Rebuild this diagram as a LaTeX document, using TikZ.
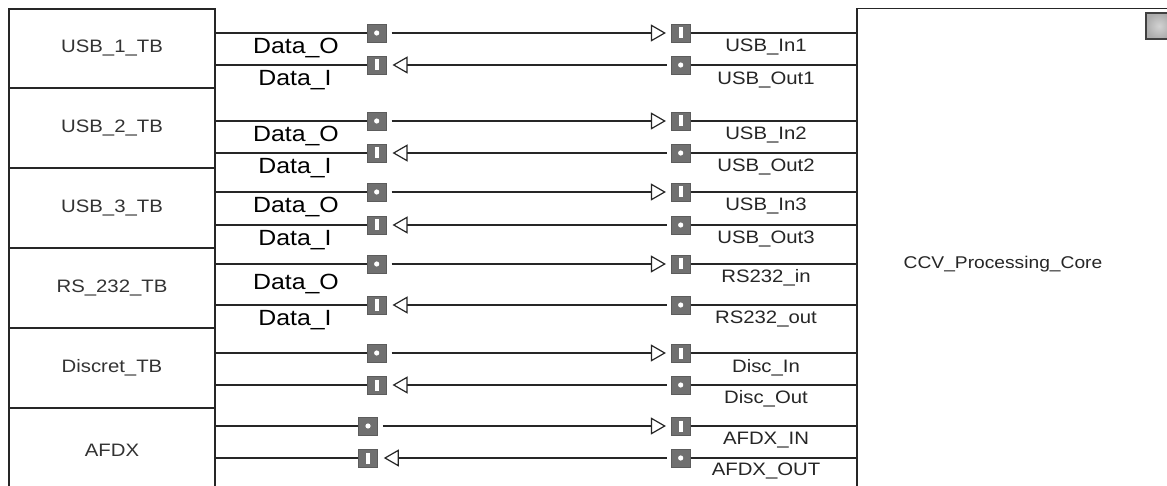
\documentclass[tikz,border=0pt]{standalone}
\usepackage{fontspec}
\setmainfont{Liberation Sans}[FakeStretch=1.13]
\usetikzlibrary{arrows.meta}
\begin{document}
\begin{tikzpicture}[x=1pt,y=-1pt,
  blk/.style={draw=black!85, line width=1.6pt, minimum width=206pt, inner sep=0pt,
    font=\fontsize{18}{20}\selectfont, text=black!80},
  port/.style={fill={rgb,255:red,112;green,112;blue,112}, draw={rgb,255:red,92;green,92;blue,92},
    line width=0.6pt, minimum width=19pt, minimum height=18pt, inner sep=0pt},
  outport/.style={port, path picture={\fill[white] (path picture bounding box.center) circle (2.6pt);}},
  inport/.style={port, path picture={\fill[white] ([xshift=-2pt,yshift=-5.5pt]path picture bounding box.center)
    rectangle ([xshift=2pt,yshift=5.5pt]path picture bounding box.center);}},
  wire/.style={line width=1.2pt, draw=black!85},
  sig/.style={wire, -{Triangle[open, length=15pt, width=17pt]}},
  dlab/.style={font=\fontsize{22}{24}\selectfont, inner sep=0pt},
  rlab/.style={font=\fontsize{18}{20}\selectfont, inner sep=0pt, text=black!85},
]
\fill[white] (0,0) rectangle (1167,486);
\useasboundingbox (0,0) rectangle (1167,486);
\clip (0,0) rectangle (1167,486);

% left blocks
\node[blk, minimum height=79pt] (B1) at (112,48.5) {USB\_1\_TB};
\node[blk, minimum height=80pt] (B2) at (112,128) {USB\_2\_TB};
\node[blk, minimum height=80pt] (B3) at (112,208) {USB\_3\_TB};
\node[blk, minimum height=80pt] (B4) at (112,288) {RS\_232\_TB};
\node[blk, minimum height=80pt] (B5) at (112,368) {Discret\_TB};
\node[blk, minimum height=84pt] (B6) at (112,450) {AFDX};

% core block
\node[minimum width=292pt, minimum height=511pt, inner sep=0pt,
  font=\fontsize{17}{19}\selectfont, text=black!85] (core) at (1003,264) {CCV\_Processing\_Core};
\draw[line width=1.5pt, draw=black!85] (core.south west) -- (core.north west) -- ([xshift=30pt]core.north east);
\node[draw=black!75, line width=1.3pt, minimum size=26pt, inner sep=0pt,
  inner color=gray!35, outer color=gray!65] (icon) at (1159,26) {};

% ports and connectors
\foreach \i/\ya/\yb/\lx in {1/33/65/376.7, 2/121/153/376.7, 3/192/225/376.7,
                             4/264/305/376.7, 5/353/385/376.7, 6/426/458/368} {
  \node[outport] (L\i o) at (\lx,\ya) {};
  \node[inport]  (L\i i) at (\lx,\yb) {};
  \node[inport]  (R\i i) at (680.7,\ya) {};
  \node[outport] (R\i o) at (680.7,\yb) {};
  \draw[wire] (B\i.east |- L\i o) -- (L\i o);
  \draw[sig, shorten <=5pt, shorten >=5pt] (L\i o) -- (R\i i);
  \draw[wire] (R\i i) -- (core.west |- R\i i);
  \draw[wire] (B\i.east |- L\i i) -- (L\i i);
  \draw[sig, shorten <=4pt, shorten >=6pt] (R\i o) -- (L\i i);
  \draw[wire] (R\i o) -- (core.west |- R\i o);
}

% left labels
\node[dlab] (d1o) at (296,48) {Data\_O};
\node[dlab] (d1i) at (295,80) {Data\_I};
\node[dlab] (d2o) at (296,136) {Data\_O};
\node[dlab] (d2i) at (295,168) {Data\_I};
\node[dlab] (d3o) at (296,207) {Data\_O};
\node[dlab] (d3i) at (295,240) {Data\_I};
\node[dlab] (d4o) at (296,284) {Data\_O};
\node[dlab] (d4i) at (295,320) {Data\_I};

% right labels
\node[rlab] (r1a) at (766,47) {USB\_In1};
\node[rlab] (r1b) at (766,80) {USB\_Out1};
\node[rlab] (r2a) at (766,135) {USB\_In2};
\node[rlab] (r2b) at (766,167) {USB\_Out2};
\node[rlab] (r3a) at (766,206) {USB\_In3};
\node[rlab] (r3b) at (766,239) {USB\_Out3};
\node[rlab] (r4a) at (766,278) {RS232\_in};
\node[rlab] (r4b) at (766,319) {RS232\_out};
\node[rlab] (r5a) at (766,368) {Disc\_In};
\node[rlab] (r5b) at (766,399) {Disc\_Out};
\node[rlab] (r6a) at (766,440) {AFDX\_IN};
\node[rlab] (r6b) at (766,471) {AFDX\_OUT};
\end{tikzpicture}
\end{document}
